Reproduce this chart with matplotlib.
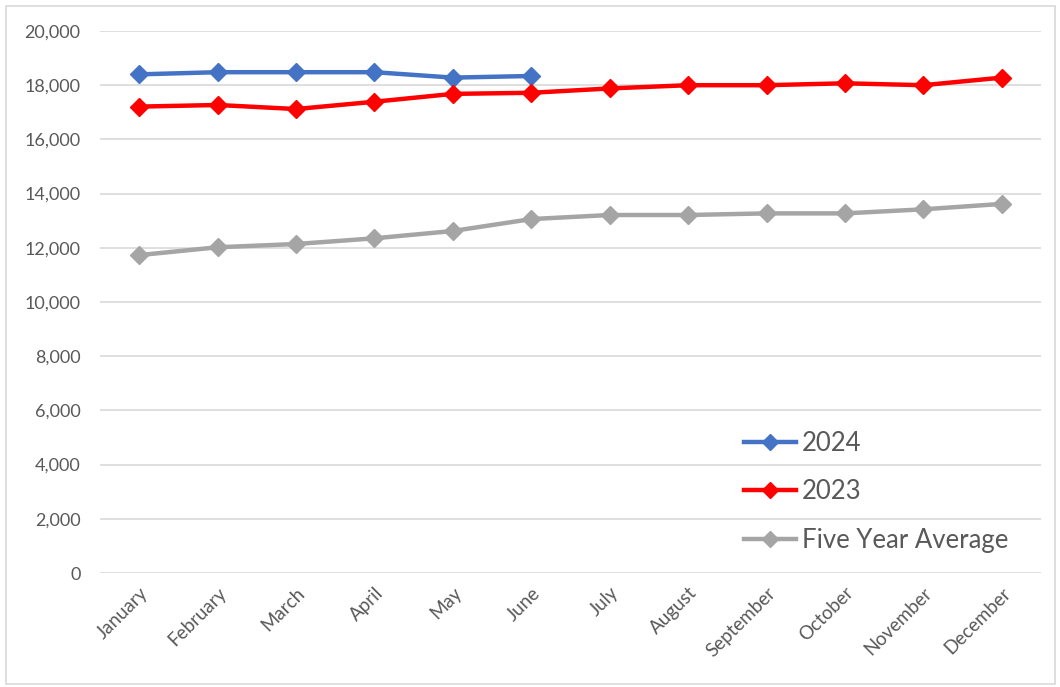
import matplotlib
matplotlib.use("Agg")
import matplotlib.pyplot as plt
from matplotlib.patches import Rectangle
from matplotlib.ticker import FuncFormatter

months = ["January", "February", "March", "April", "May", "June", "July",
          "August", "September", "October", "November", "December"]
y2024 = [18400, 18480, 18480, 18480, 18280, 18340]
y2023 = [17210, 17270, 17120, 17390, 17680, 17720, 17880, 18000, 18000, 18070, 18000, 18280]
five_year = [11730, 12020, 12140, 12350, 12620, 13060, 13210, 13210, 13270, 13270, 13420, 13620]
yticks = list(range(0, 20001, 2000))

plt.rcParams['font.family'] = ['Lato', 'DejaVu Sans']

fig = plt.figure(figsize=(10.6, 6.87), dpi=100)
ax = fig.add_axes([100/1060, (687-573)/687, (1041-100)/1060, (573-31)/687])

x = list(range(len(months)))
ax.plot(x[:len(y2024)], y2024, color="#4472C4", lw=3.2, marker="D", ms=9, label="2024")
ax.plot(x, y2023, color="#FF0000", lw=3.2, marker="D", ms=9, label="2023")
ax.plot(x, five_year, color="#A5A5A5", lw=3.2, marker="D", ms=9, label="Five Year Average")

ax.set_xlim(-0.5, 11.5)
ax.set_ylim(0, 20000)
ax.set_yticks(yticks)
ax.yaxis.set_major_formatter(FuncFormatter(lambda v, p: f"{int(v):,}"))
ax.set_xticks(x)
ax.set_xticklabels(months, rotation=45, ha="right", rotation_mode="anchor", fontsize=13.5)
ax.tick_params(axis="both", length=0, colors="#595959")
ax.tick_params(axis="y", pad=14, labelsize=13)
ax.tick_params(axis="x", pad=8)
ax.grid(axis="y", color="#D9D9D9", lw=1.2)
ax.set_axisbelow(True)
for s in ax.spines.values():
    s.set_visible(False)

leg = ax.legend(loc="upper left", bbox_to_anchor=(0.66, 0.305), frameon=False,
                fontsize=18.5, handlelength=2.0, handletextpad=0.25, labelspacing=0.92,
                labelcolor="#595959")
for h in leg.legend_handles:
    h.set_markersize(8)

fig.patches.append(Rectangle((6/1060, 3/687), 1049/1060, 678/687, transform=fig.transFigure,
                             fill=False, edgecolor="#D9D9D9", lw=1.2))

fig.savefig("out.png", dpi=100)
